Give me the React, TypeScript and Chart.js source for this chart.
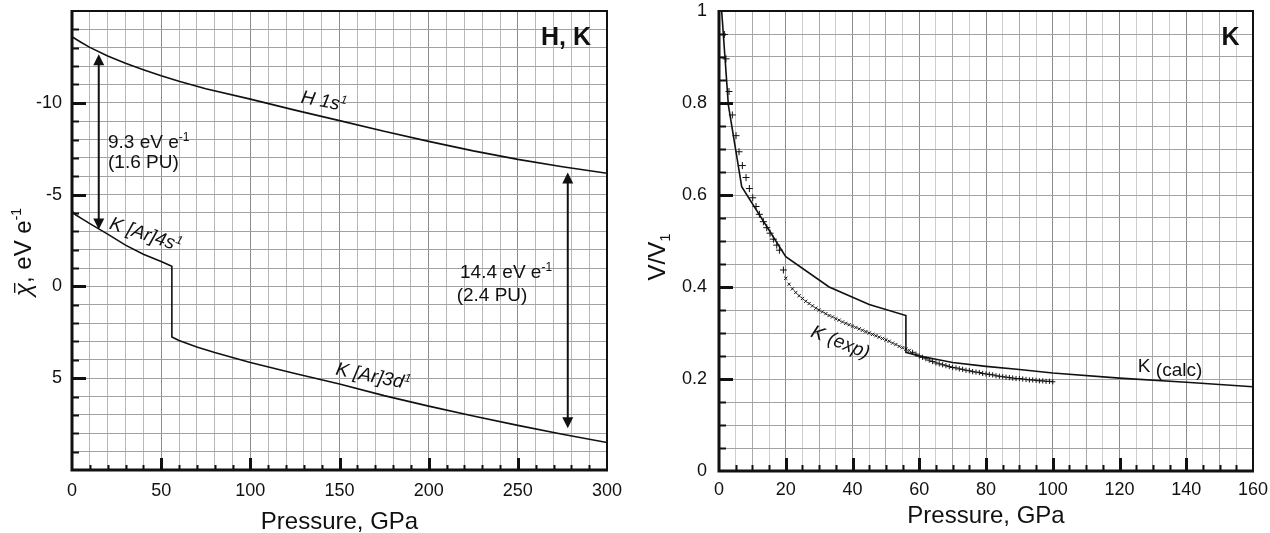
import { useEffect, useRef } from 'react';
import { Chart, registerables } from 'chart.js';
Chart.register(...registerables);

const FONT = '"Liberation Sans", Arial, Helvetica, sans-serif';

// ---------- Left panel (H, K electronegativity) ----------
const hPressure = [0, 5, 10, 20, 30, 40, 50, 60, 75, 100, 125, 150, 175, 200, 225, 250, 275, 300];
const hChi = [-13.6, -13.3, -13.02, -12.55, -12.15, -11.8, -11.47, -11.17, -10.77, -10.2, -9.6, -9.03, -8.45, -7.9, -7.38, -6.92, -6.52, -6.16];
const kPressure = [0, 2, 5, 10, 15, 20, 30, 40, 50, 56, 56, 60, 70, 80, 100, 125, 150, 175, 200, 225, 250, 275, 300];
const kChi = [-4.1, -3.9, -3.72, -3.42, -3.13, -2.85, -2.25, -1.75, -1.35, -1.1, 2.75, 2.95, 3.3, 3.6, 4.14, 4.74, 5.32, 5.95, 6.52, 7.06, 7.57, 8.05, 8.5];
const leftXTicks = [0, 50, 100, 150, 200, 250, 300];
const leftYTicks = [-10, -5, 0, 5];

// ---------- Right panel (K compression) ----------
const calcPressure = [0.8, 2.8, 6.8, 20, 33, 45, 56, 56, 60, 70, 80, 90, 100, 120, 140, 160];
const calcV = [1.0, 0.796, 0.618, 0.466, 0.4, 0.362, 0.338, 0.258, 0.25, 0.236, 0.2275, 0.2205, 0.213, 0.202, 0.193, 0.183];
const expEarlyP = [1.6, 2.1, 3.0, 4.0, 5.1, 6.0, 7.0, 8.1, 9.1, 10.1, 11.1, 12.1, 13.3, 14.3, 15.3, 16.3, 17.3, 18.1, 19.3];
const expEarlyV = [0.949, 0.896, 0.825, 0.774, 0.729, 0.694, 0.664, 0.638, 0.614, 0.594, 0.575, 0.558, 0.542, 0.529, 0.517, 0.504, 0.491, 0.48, 0.437];
const expMidP = [20, 21, 22, 23, 24, 25, 26, 27, 28, 29, 30, 31, 32, 33, 34, 35, 36, 37, 38, 39, 40, 41, 42, 43, 44, 45, 46, 47, 48, 49, 50, 51, 52, 53, 54, 55, 56, 57];
const expMidV = [0.419, 0.406, 0.396, 0.388, 0.381, 0.375, 0.369, 0.364, 0.359, 0.354, 0.35, 0.346, 0.342, 0.338, 0.335, 0.331, 0.328, 0.324, 0.321, 0.318, 0.315, 0.312, 0.309, 0.306, 0.303, 0.3, 0.297, 0.294, 0.291, 0.288, 0.285, 0.282, 0.278, 0.275, 0.271, 0.268, 0.265, 0.262];
const expLateP = [58, 59, 60, 61, 62, 63, 64, 65, 66, 67, 68, 69, 70, 71, 72, 73, 74, 75, 76, 77, 78, 79, 80, 81, 82, 83, 84, 85, 86, 87, 88, 89, 90, 91, 92, 93, 94, 95, 96, 97, 98, 99, 100];
const expLateV = [0.258, 0.254, 0.25, 0.247, 0.244, 0.241, 0.238, 0.235, 0.233, 0.231, 0.229, 0.227, 0.225, 0.224, 0.222, 0.221, 0.219, 0.218, 0.216, 0.215, 0.214, 0.212, 0.211, 0.21, 0.209, 0.207, 0.206, 0.205, 0.204, 0.203, 0.202, 0.201, 0.201, 0.2, 0.199, 0.198, 0.198, 0.197, 0.196, 0.196, 0.195, 0.195, 0.194];
const rightXTicks = [0, 20, 40, 60, 80, 100, 120, 140, 160];
const rightYTicks = [0, 0.2, 0.4, 0.6, 0.8, 1];
const rightYTickLabels = ['0', '0.2', '0.4', '0.6', '0.8', '1'];

const zip = (xs: number[], ys: number[]) => xs.map((x, i) => ({ x, y: ys[i] }));

type Part = { t: string; it?: boolean; b?: boolean; sz?: number; dy?: number; bar?: boolean };
type Ann = { x: number; y: number; parts: Part[]; rot?: number; align?: 'left' | 'right' | 'center'; size?: number };

function drawParts(ctx: CanvasRenderingContext2D, parts: Part[], x: number, y: number, rot = 0, align: string = 'left', base = 19) {
  ctx.save();
  ctx.translate(x, y);
  ctx.rotate((rot * Math.PI) / 180);
  const fontOf = (p: Part) => `${p.it ? 'italic ' : ''}${p.b ? 'bold ' : ''}${p.sz ?? base}px ${FONT}`;
  let total = 0;
  for (const p of parts) {
    ctx.font = fontOf(p);
    total += ctx.measureText(p.t).width;
  }
  let cx = align === 'right' ? -total : align === 'center' ? -total / 2 : 0;
  ctx.textBaseline = 'alphabetic';
  ctx.textAlign = 'left';
  ctx.fillStyle = '#111';
  ctx.strokeStyle = '#111';
  for (const p of parts) {
    ctx.font = fontOf(p);
    const w = ctx.measureText(p.t).width;
    ctx.fillText(p.t, cx, p.dy ?? 0);
    if (p.bar) {
      const s = p.sz ?? base;
      ctx.lineWidth = 1.4;
      ctx.beginPath();
      ctx.moveTo(cx + w * 0.25, -s * 0.68);
      ctx.lineTo(cx + w * 1.0, -s * 0.68);
      ctx.stroke();
    }
    cx += w;
  }
  ctx.restore();
}

type FrameCfg = {
  xMajor: (v: number) => boolean;
  yMajor: (v: number) => boolean;
  xLabels: { v: number; s: string }[];
  yLabels: { v: number; s: string }[];
  xLabelOffset: number;
  yLabelGap: number;
  xTitle: { x: number; y: number };
  yTitle: { x: number; y: number; parts: Part[] };
  anns: Ann[];
  arrows: { x: number; y1: number; y2: number }[];
  minorLen: [number, number];
  majorLen: [number, number];
};

function makeFrame(cfg: FrameCfg) {
  return {
    id: 'frame',
    afterDraw(chart: any) {
      const { ctx, chartArea: a, scales } = chart;
      const sx = scales.x;
      const sy = scales.y;
      ctx.save();
      // arrows
      ctx.strokeStyle = '#111';
      ctx.fillStyle = '#111';
      for (const ar of cfg.arrows) {
        const px = sx.getPixelForValue(ar.x);
        const p1 = sy.getPixelForValue(ar.y1);
        const p2 = sy.getPixelForValue(ar.y2);
        const top = Math.min(p1, p2);
        const bot = Math.max(p1, p2);
        const hl = 11, hw = 5.5;
        ctx.lineWidth = 2;
        ctx.beginPath();
        ctx.moveTo(px, top + hl - 1);
        ctx.lineTo(px, bot - hl + 1);
        ctx.stroke();
        ctx.beginPath();
        ctx.moveTo(px, top);
        ctx.lineTo(px - hw, top + hl);
        ctx.lineTo(px + hw, top + hl);
        ctx.closePath();
        ctx.fill();
        ctx.beginPath();
        ctx.moveTo(px, bot);
        ctx.lineTo(px - hw, bot - hl);
        ctx.lineTo(px + hw, bot - hl);
        ctx.closePath();
        ctx.fill();
      }
      // inside tick marks
      ctx.strokeStyle = '#111';
      for (const t of sx.ticks) {
        const v = t.value;
        if (v <= sx.min || v >= sx.max) continue;
        const px = Math.round(sx.getPixelForValue(v)) + 0.5;
        const maj = cfg.xMajor(v);
        ctx.lineWidth = maj ? 3 : 2;
        ctx.beginPath();
        ctx.moveTo(px, a.bottom);
        ctx.lineTo(px, a.bottom - (maj ? cfg.majorLen[0] : cfg.minorLen[0]));
        ctx.stroke();
      }
      for (const t of sy.ticks) {
        const v = t.value;
        if (v <= sy.min + 1e-9 || v >= sy.max - 1e-9) continue;
        const py = Math.round(sy.getPixelForValue(v)) + 0.5;
        const maj = cfg.yMajor(v);
        ctx.lineWidth = maj ? 3 : 2;
        ctx.beginPath();
        ctx.moveTo(a.left, py);
        ctx.lineTo(a.left + (maj ? cfg.majorLen[1] : cfg.minorLen[1]), py);
        ctx.stroke();
      }
      // border
      ctx.lineWidth = 2;
      ctx.beginPath();
      ctx.moveTo(a.left, a.top);
      ctx.lineTo(a.right, a.top);
      ctx.lineTo(a.right, a.bottom);
      ctx.stroke();
      ctx.lineWidth = 3;
      ctx.beginPath();
      ctx.moveTo(a.left, a.top - 1);
      ctx.lineTo(a.left, a.bottom);
      ctx.lineTo(a.right + 1, a.bottom);
      ctx.stroke();
      // tick labels
      ctx.fillStyle = '#111';
      ctx.font = `18px ${FONT}`;
      ctx.textAlign = 'center';
      ctx.textBaseline = 'middle';
      for (const l of cfg.xLabels) {
        ctx.fillText(l.s, sx.getPixelForValue(l.v), a.bottom + cfg.xLabelOffset);
      }
      ctx.textAlign = 'right';
      for (const l of cfg.yLabels) {
        ctx.fillText(l.s, a.left - cfg.yLabelGap, sy.getPixelForValue(l.v));
      }
      // titles
      drawParts(ctx, [{ t: 'Pressure, GPa' }], cfg.xTitle.x, cfg.xTitle.y, 0, 'center', 24);
      drawParts(ctx, cfg.yTitle.parts, cfg.yTitle.x, cfg.yTitle.y, -90, 'center', 24);
      // annotations
      for (const an of cfg.anns) {
        drawParts(ctx, an.parts, sx.getPixelForValue(an.x), sy.getPixelForValue(an.y), an.rot ?? 0, an.align ?? 'left', an.size ?? 19);
      }
      ctx.restore();
    },
  };
}

const lineDs = (label: string, data: { x: number; y: number }[]) => ({
  label,
  data,
  showLine: true,
  borderColor: '#111',
  borderWidth: 1.6,
  pointRadius: 0,
  tension: 0,
  fill: false,
});

const markDs = (label: string, data: { x: number; y: number }[], style: string, r: number) => ({
  label,
  data,
  showLine: false,
  pointStyle: style,
  pointRadius: r,
  pointBorderColor: '#111',
  pointBorderWidth: 1,
  borderColor: '#111',
});

function leftConfig(): any {
  const frame = makeFrame({
    xMajor: (v) => v % 50 === 0,
    yMajor: (v) => Math.round(v) % 5 === 0,
    xLabels: leftXTicks.map((v) => ({ v, s: String(v) })),
    yLabels: leftYTicks.map((v) => ({ v, s: String(v) })),
    xLabelOffset: 21,
    yLabelGap: 10,
    xTitle: { x: 339.5, y: 529 },
    yTitle: { x: 31, y: 252, parts: [{ t: 'χ', it: true, bar: true }, { t: ', eV e' }, { t: '-1', sz: 14, dy: -10 }] },
    anns: [
      { x: 128, y: -10.0, rot: 10.5, parts: [{ t: 'H 1s', it: true }, { t: '1', it: true, sz: 12, dy: -7 }] },
      { x: 20.5, y: -3.15, rot: 18, parts: [{ t: 'K [Ar]4s', it: true }, { t: '1', it: true, sz: 12, dy: -7 }] },
      { x: 147.5, y: 4.8, rot: 11.5, parts: [{ t: 'K [Ar]3d', it: true }, { t: '1', it: true, sz: 12, dy: -7 }] },
      { x: 20.2, y: -7.54, parts: [{ t: '9.3 eV e' }, { t: '-1', sz: 12, dy: -7 }] },
      { x: 20.2, y: -6.45, parts: [{ t: '(1.6 PU)' }] },
      { x: 217.6, y: -0.47, parts: [{ t: '14.4 eV e' }, { t: '-1', sz: 12, dy: -7 }] },
      { x: 215.7, y: 0.8, parts: [{ t: '(2.4 PU)' }] },
      { x: 291, y: -13.17, align: 'right', parts: [{ t: 'H, K', b: true, sz: 25 }] },
    ],
    arrows: [
      { x: 15, y1: -12.65, y2: -3.1 },
      { x: 278, y1: -6.2, y2: 7.72 },
    ],
    minorLen: [5, 7],
    majorLen: [12, 14],
  });
  return {
    type: 'scatter',
    data: {
      datasets: [lineDs('H 1s1', zip(hPressure, hChi)), lineDs('K', zip(kPressure, kChi))],
    },
    options: {
      animation: false,
      responsive: false,
      devicePixelRatio: 1,
      layout: { padding: { left: 72, top: 11, right: 28, bottom: 63 } },
      plugins: { legend: { display: false }, tooltip: { enabled: false } },
      scales: {
        x: {
          type: 'linear',
          min: 0,
          max: 300,
          ticks: { display: false, stepSize: 10 },
          border: { display: false },
          grid: {
            drawTicks: false,
            lineWidth: 1,
            color: (c: any) => (c.tick && c.tick.value % 50 === 0 ? '#8c8c8c' : '#b8b8b8'),
          },
        },
        y: {
          type: 'linear',
          reverse: true,
          min: -15,
          max: 10,
          ticks: { display: false, stepSize: 1 },
          border: { display: false },
          grid: { drawTicks: false, lineWidth: 1, color: '#a2a2a2' },
        },
      },
    },
    plugins: [frame],
  };
}

function rightConfig(): any {
  const frame = makeFrame({
    xMajor: (v) => Math.round(v) % 20 === 0,
    yMajor: (v) => Math.abs(v * 5 - Math.round(v * 5)) < 1e-6,
    xLabels: rightXTicks.map((v) => ({ v, s: String(v) })),
    yLabels: rightYTicks.map((v, i) => ({ v, s: rightYTickLabels[i] })),
    xLabelOffset: 19,
    yLabelGap: 12,
    xTitle: { x: 351, y: 523 },
    yTitle: { x: 30, y: 257, parts: [{ t: 'V/V' }, { t: '1', sz: 15, dy: 5 }] },
    anns: [
      { x: 27.2, y: 0.293, rot: 22, parts: [{ t: 'K (exp)', it: true }] },
      { x: 125.5, y: 0.216, parts: [{ t: 'K ' }, { t: '(calc)', sz: 19, dy: 4 }] },
      { x: 156, y: 0.926, align: 'right', parts: [{ t: 'K', b: true, sz: 25 }] },
    ],
    arrows: [],
    minorLen: [6, 7],
    majorLen: [13, 14],
  });
  return {
    type: 'scatter',
    data: {
      datasets: [
        lineDs('K (calc)', zip(calcPressure, calcV)),
        markDs('K (exp) early', zip(expEarlyP, expEarlyV), 'cross', 3.5),
        markDs('K (exp) mid', zip(expMidP, expMidV), 'crossRot', 2.3),
        markDs('K (exp) late', zip(expLateP, expLateV), 'cross', 2.6),
      ],
    },
    options: {
      animation: false,
      responsive: false,
      devicePixelRatio: 1,
      layout: { padding: { left: 84, top: 11, right: 17, bottom: 62 } },
      plugins: { legend: { display: false }, tooltip: { enabled: false } },
      scales: {
        x: {
          type: 'linear',
          min: 0,
          max: 160,
          ticks: { display: false, stepSize: 5 },
          border: { display: false },
          grid: {
            drawTicks: false,
            lineWidth: 1,
            color: (c: any) => {
              const v = c.tick ? Math.round(c.tick.value) : 0;
              if (v % 20 === 0) return '#8c8c8c';
              if (v % 10 === 0) return '#aaaaaa';
              return '#cdcdcd';
            },
          },
        },
        y: {
          type: 'linear',
          min: 0,
          max: 1,
          ticks: { display: false, stepSize: 0.05 },
          border: { display: false },
          grid: { drawTicks: false, lineWidth: 1, color: '#a2a2a2' },
        },
      },
    },
    plugins: [frame],
  };
}

function ChartCanvas({ config, left }: { config: () => any; left: number }) {
  const ref = useRef<HTMLCanvasElement | null>(null);
  useEffect(() => {
    if (!ref.current) return;
    const chart = new Chart(ref.current, config());
    return () => chart.destroy();
  }, [config]);
  return (
    <canvas
      ref={ref}
      width={635}
      height={533}
      style={{ position: 'absolute', left, top: 0, width: 635, height: 533, display: 'block' }}
    />
  );
}

export default function App() {
  return (
    <div style={{ position: 'absolute', left: 0, top: 0, width: 1270, height: 533, background: '#fff', overflow: 'hidden' }}>
      <ChartCanvas config={leftConfig} left={0} />
      <ChartCanvas config={rightConfig} left={635} />
    </div>
  );
}
